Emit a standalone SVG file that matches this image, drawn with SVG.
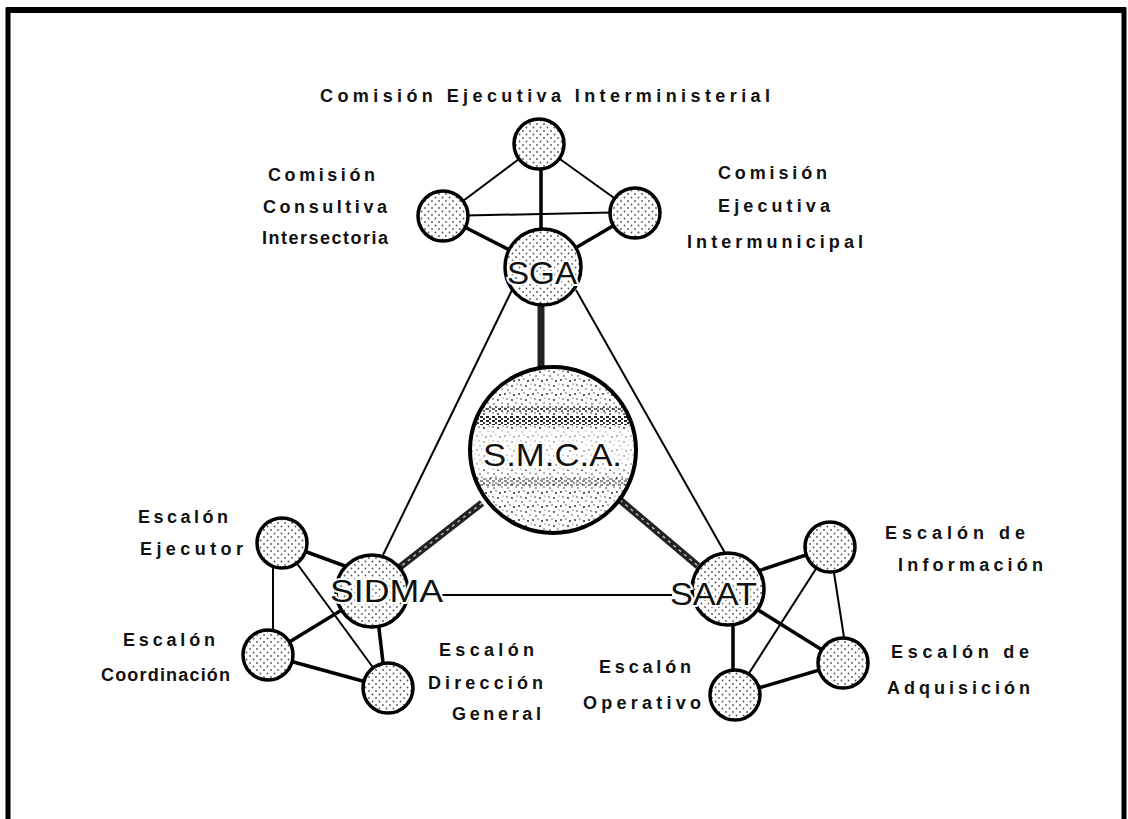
<svg xmlns="http://www.w3.org/2000/svg" width="1128" height="819" viewBox="0 0 1128 819">
<defs>
<pattern id="dots" width="7" height="7" patternUnits="userSpaceOnUse">
<rect width="7" height="7" fill="#fff"/>
<circle cx="1.5" cy="1.5" r="0.9" fill="#555"/>
<circle cx="5" cy="5" r="0.9" fill="#555"/>
</pattern>
<pattern id="noise" width="14" height="14" patternUnits="userSpaceOnUse">
<rect width="14" height="14" fill="#fff"/>
<circle cx="1" cy="2" r="0.9" fill="#222"/>
<circle cx="6" cy="1" r="0.7" fill="#333"/>
<circle cx="10" cy="3" r="1" fill="#222"/>
<circle cx="3" cy="7" r="0.8" fill="#333"/>
<circle cx="8" cy="8" r="0.9" fill="#222"/>
<circle cx="12" cy="11" r="0.7" fill="#333"/>
<circle cx="4" cy="12" r="0.8" fill="#222"/>
<circle cx="13" cy="6" r="0.6" fill="#333"/>
</pattern>
<pattern id="band" width="6" height="4" patternUnits="userSpaceOnUse">
<rect width="6" height="4" fill="#fff"/>
<rect x="0" y="0" width="3" height="2" fill="#222"/>
<rect x="3" y="2" width="2" height="2" fill="#333"/>
</pattern>
<clipPath id="smcaClip"><circle cx="553" cy="450" r="83"/></clipPath>
</defs>
<style>
.n{fill:url(#dots);stroke:#000;stroke-width:3.5}
.ln{stroke:#000;stroke-width:2;fill:none}
.tk{stroke:#000;stroke-width:3.5;fill:none}
.hv{stroke:#222;stroke-width:7;fill:none}
.hx{stroke:#bbb;stroke-width:1.5;stroke-dasharray:3 4;fill:none}
.lb{font-family:"Liberation Sans",Arial,sans-serif;font-weight:bold;font-size:18px;fill:#111}
.nl{font-family:"Liberation Sans",Arial,sans-serif;font-size:32px;fill:#111;stroke:#fff;stroke-width:4;paint-order:stroke}
</style>
<rect width="1128" height="819" fill="#fff"/>
<path d="M8,819 V10 H1124 V819" fill="none" stroke="#000" stroke-width="5"/>
<line x1="6" y1="10" x2="1126" y2="10" stroke="#000" stroke-width="6"/>

<g id="connectors">
<line class="ln" x1="539" y1="144" x2="443" y2="216"/>
<line class="ln" x1="539" y1="144" x2="635" y2="213"/>
<line class="tk" x1="541" y1="144" x2="541" y2="267"/>
<line class="ln" x1="443" y1="216" x2="635" y2="212"/>
<line class="tk" x1="443" y1="216" x2="543" y2="267"/>
<line class="tk" x1="635" y1="213" x2="543" y2="267"/>
<line class="hv" x1="541" y1="300" x2="541" y2="368"/>
<line class="ln" x1="512" y1="290" x2="383" y2="555"/>
<line class="ln" x1="576" y1="290" x2="725" y2="553"/>
<line class="hv" x1="482" y1="503" x2="400" y2="567"/>
<line class="hx" x1="482" y1="503" x2="400" y2="567"/>
<line class="hv" x1="620" y1="500" x2="698" y2="566"/>
<line class="hx" x1="620" y1="500" x2="698" y2="566"/>
<line class="ln" x1="440" y1="595" x2="672" y2="595"/>
<line class="tk" x1="282" y1="543" x2="345" y2="566"/>
<line class="ln" x1="273" y1="543" x2="273" y2="655"/>
<line class="ln" x1="282" y1="543" x2="388" y2="688"/>
<line class="tk" x1="268" y1="655" x2="345" y2="608"/>
<line class="tk" x1="268" y1="655" x2="388" y2="688"/>
<line class="tk" x1="378" y1="620" x2="386" y2="688"/>
<line class="tk" x1="755" y1="572" x2="830" y2="547"/>
<line class="ln" x1="830" y1="547" x2="735" y2="695"/>
<line class="ln" x1="830" y1="547" x2="848" y2="663"/>
<line class="tk" x1="755" y1="608" x2="843" y2="663"/>
<line class="tk" x1="733" y1="620" x2="733" y2="695"/>
<line class="tk" x1="735" y1="695" x2="843" y2="663"/>
</g>

<g id="n-top"><circle class="n" cx="539" cy="144" r="25"/></g>
<g id="n-consultiva"><circle class="n" cx="443" cy="216" r="25"/></g>
<g id="n-intermunicipal"><circle class="n" cx="635" cy="213" r="25"/></g>
<g id="n-sga"><circle class="n" cx="543" cy="267" r="38"/><text class="nl" x="507" y="284" textLength="70" lengthAdjust="spacingAndGlyphs">SGA</text></g>
<g id="n-smca">
<circle cx="553" cy="450" r="83" fill="url(#noise)"/>
<g clip-path="url(#smcaClip)">
<rect x="460" y="406" width="190" height="6" fill="url(#band)" opacity="0.7"/>
<rect x="460" y="416" width="190" height="9" fill="url(#band)"/>
<rect x="460" y="430" width="190" height="40" fill="#fff" opacity="0.55"/>
<rect x="460" y="478" width="190" height="8" fill="url(#band)" opacity="0.5"/>
</g>
<circle cx="553" cy="450" r="83" fill="none" stroke="#000" stroke-width="4"/>
<text class="nl" x="483" y="466" textLength="139" lengthAdjust="spacingAndGlyphs">S.M.C.A.</text></g>
<g id="n-sidma"><circle class="n" cx="372" cy="591" r="36"/><text class="nl" x="330" y="602" textLength="113" lengthAdjust="spacingAndGlyphs">SIDMA</text></g>
<g id="n-saat"><circle class="n" cx="728" cy="589" r="36"/><text class="nl" x="670" y="605" textLength="87" lengthAdjust="spacingAndGlyphs">SAAT</text></g>
<g id="n-ejecutor"><circle class="n" cx="282" cy="543" r="25"/></g>
<g id="n-coordinacion"><circle class="n" cx="268" cy="655" r="25"/></g>
<g id="n-direccion"><circle class="n" cx="388" cy="688" r="25"/></g>
<g id="n-informacion"><circle class="n" cx="830" cy="547" r="25"/></g>
<g id="n-adquisicion"><circle class="n" cx="843" cy="663" r="25"/></g>
<g id="n-operativo"><circle class="n" cx="735" cy="695" r="25"/></g>

<g id="labels">
<text class="lb" x="320" y="102" textLength="450" lengthAdjust="spacing">Comisión  Ejecutiva  Interministerial</text>
<text class="lb" x="268" y="181" textLength="107" lengthAdjust="spacing">Comisión</text>
<text class="lb" x="263" y="213" textLength="124" lengthAdjust="spacing">Consultiva</text>
<text class="lb" x="262" y="244" textLength="126" lengthAdjust="spacing">Intersectoria</text>
<text class="lb" x="718" y="179" textLength="109" lengthAdjust="spacing">Comisión</text>
<text class="lb" x="718" y="212" textLength="112" lengthAdjust="spacing">Ejecutiva</text>
<text class="lb" x="687" y="248" textLength="176" lengthAdjust="spacing">Intermunicipal</text>
<text class="lb" x="138" y="523" textLength="90" lengthAdjust="spacing">Escalón</text>
<text class="lb" x="140" y="555" textLength="103" lengthAdjust="spacing">Ejecutor</text>
<text class="lb" x="123" y="646" textLength="92" lengthAdjust="spacing">Escalón</text>
<text class="lb" x="101" y="681" textLength="129" lengthAdjust="spacing">Coordinación</text>
<text class="lb" x="439" y="656" textLength="95" lengthAdjust="spacing">Escalón</text>
<text class="lb" x="428" y="689" textLength="115" lengthAdjust="spacing">Dirección</text>
<text class="lb" x="452" y="720" textLength="89" lengthAdjust="spacing">General</text>
<text class="lb" x="599" y="673" textLength="92" lengthAdjust="spacing">Escalón</text>
<text class="lb" x="583" y="709" textLength="118" lengthAdjust="spacing">Operativo</text>
<text class="lb" x="885" y="539" textLength="140" lengthAdjust="spacing">Escalón  de</text>
<text class="lb" x="898" y="571" textLength="145" lengthAdjust="spacing">Información</text>
<text class="lb" x="891" y="658" textLength="138" lengthAdjust="spacing">Escalón  de</text>
<text class="lb" x="887" y="694" textLength="143" lengthAdjust="spacing">Adquisición</text>
</g>
</svg>
